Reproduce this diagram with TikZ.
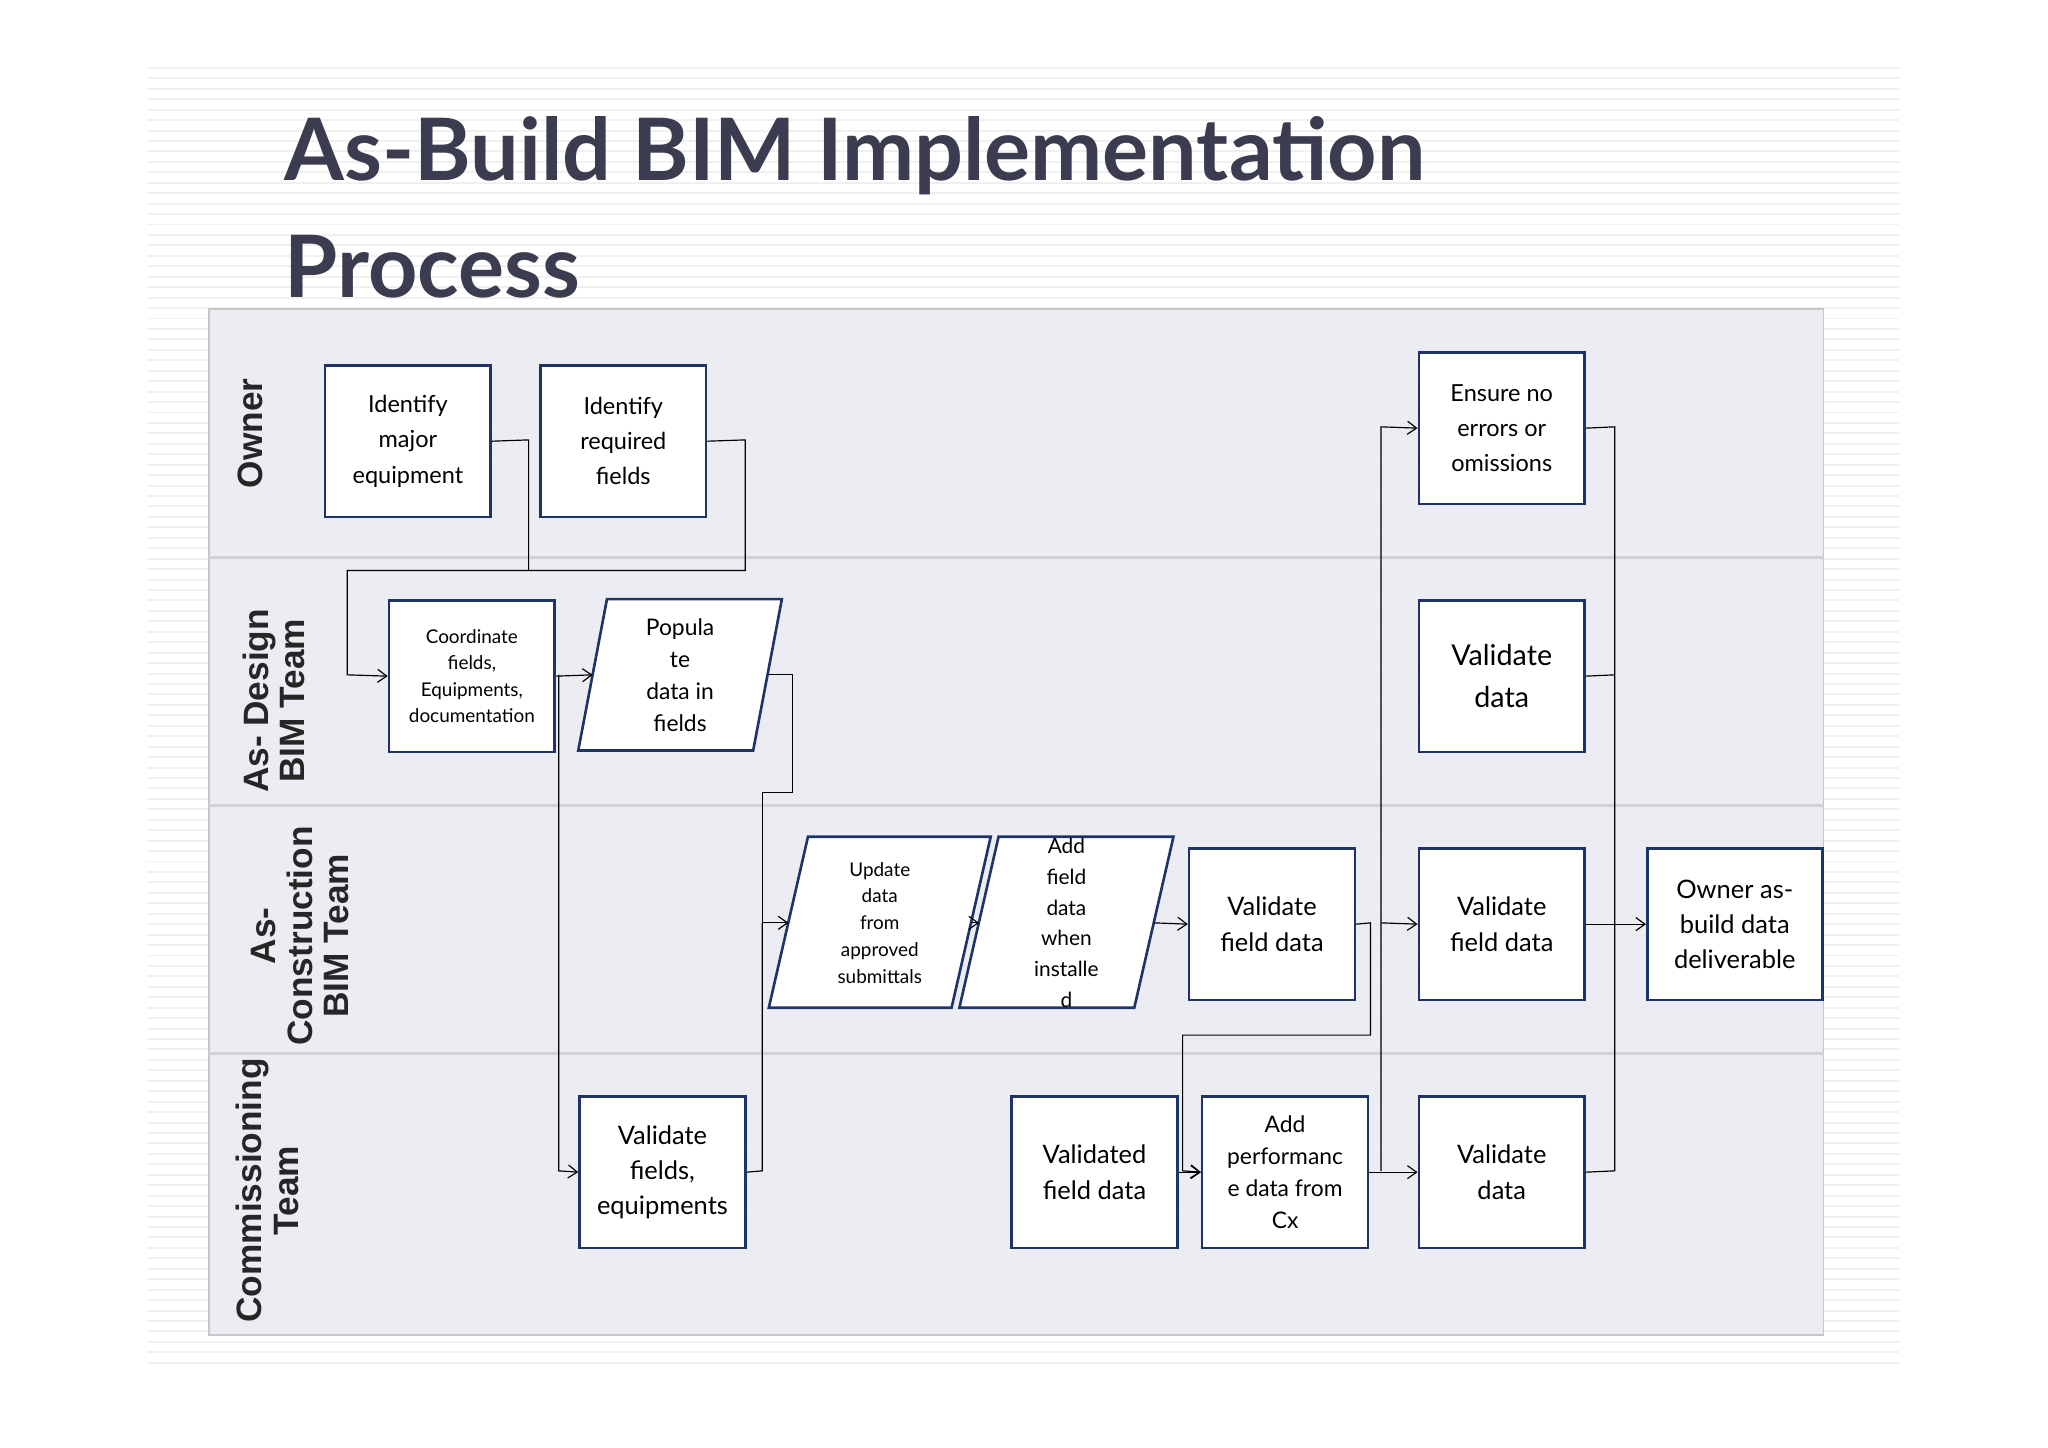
\documentclass[tikz,border=0pt]{standalone}
\usepackage{fontspec}
\setmainfont{Lato}
\newfontfamily\lanefont{Liberation Sans}
\usetikzlibrary{arrows.meta}
\definecolor{navy}{HTML}{1F3466}
\definecolor{titlec}{HTML}{3C3C50}
\definecolor{panel}{HTML}{E9EBF1}
\begin{document}
\begin{tikzpicture}[x=1pt,y=-1pt,
  box/.style={draw=navy,line width=2pt,fill=white,minimum width=127pt,minimum height=116pt,anchor=north west,align=center,inner sep=2pt,font=\fontsize{18}{27}\selectfont},
  para/.style={draw=navy,line width=2pt,fill=white},
  ptext/.style={align=center,inner sep=0pt},
  lane/.style={rotate=90,align=center,font=\lanefont\bfseries\fontsize{27}{28}\selectfont,text=black!85},
  conn/.style={draw=black,line width=0.9pt,-{Straight Barb[length=7pt,width=10pt]}},
  line/.style={draw=black,line width=0.9pt}]
\useasboundingbox (0,0) rectangle (1569,1109);
\fill[white] (0,0) rectangle (1569,1109);
\foreach \y in {52,60,...,1048} \draw[gray!12,line width=1.5pt] (113,\y) -- (1455,\y);
\node[anchor=base west,text=titlec,font=\bfseries\fontsize{66}{70}\selectfont,inner sep=0pt] (t1) at (218,138) {As-Build BIM Implementation};
\node[anchor=base west,text=titlec,font=\bfseries\fontsize{66}{70}\selectfont,inner sep=0pt] (t2) at (218,228) {Process};
\fill[panel,opacity=0.85] (160,237) rectangle (1397,1023);
\draw[gray!45,line width=1.5pt] (160,237) rectangle (1397,1023);
\foreach \y in {427,617,807} \draw[gray!35,line width=2pt] (160,\y) -- (1397,\y);
\node[lane] (l1) at (192,332) {Owner};
\node[lane] (l2) at (210,537) {As- Design\\BIM Team};
\node[lane] (l3) at (230,717) {As-\\Construction\\BIM Team};
\node[lane] (l4) at (205,912) {Commissioning\\Team};
% boxes
\node[box] (A) at (248,279) {Identify\\major\\equipment};
\node[box] (B) at (413,279) {Identify\\required\\fields};
\node[box] (C) at (1086,269) {Ensure no\\errors or\\omissions};
\node[box,font=\fontsize{14.5}{20}\selectfont] (D) at (297,459) {Coordinate\\fields,\\Equipments,\\documentation};
\node[box,font=\fontsize{22}{32}\selectfont] (F) at (1086,459) {Validate\\data};
\node[box,font=\fontsize{19.5}{27}\selectfont] (I) at (910,649) {Validate\\field data};
\node[box,font=\fontsize{19.5}{27}\selectfont] (J) at (1086,649) {Validate\\field data};
\node[box,minimum width=134pt,font=\fontsize{19.5}{27}\selectfont] (K) at (1261,649) {Owner as-\\build data\\deliverable};
\node[box,font=\fontsize{19.5}{27}\selectfont] (L) at (443,839) {Validate\\fields,\\equipments};
\node[box,font=\fontsize{19.5}{27}\selectfont] (M) at (774,839) {Validated\\field data};
\node[box,font=\fontsize{17.5}{24.5}\selectfont] (N) at (920,839) {Add\\performanc\\e data from\\Cx};
\node[box,font=\fontsize{19.5}{27}\selectfont] (O) at (1086,839) {Validate\\data};
% parallelograms
\draw[para] (465,459) -- (599,459) -- (577,575) -- (443,575) -- cycle;
\node[ptext,font=\fontsize{17.5}{24.5}\selectfont] (E) at (521,517) {Popula\\te\\data in\\fields};
\coordinate (Ein) at (454,517); \coordinate (Eout) at (588,517);
\draw[para] (619,641) -- (759,641) -- (729,772) -- (589,772) -- cycle;
\node[ptext,font=\fontsize{14.5}{20.5}\selectfont] (G) at (674,707) {Update\\data\\from\\approved\\submittals};
\coordinate (Gin) at (604,707); \coordinate (Gout) at (744,707);
\draw[para] (765,641) -- (899,641) -- (869,772) -- (735,772) -- cycle;
\node[ptext,font=\fontsize{16}{23.5}\selectfont] (H) at (817,707) {Add\\field\\data\\when\\installe\\d};
\coordinate (Hin) at (750,707); \coordinate (Hout) at (884,707);
% connectors
\draw[conn] (A.east) -- (405,337) -- (405,437) -- (266,437) -- (266,517) -- (D.west);
\draw[line] (B.east) -- (571,337) -- (571,437) -- (405,437);
\draw[conn] (D.east) -- (Ein);
\draw[conn] (428,517) -- (428,897) -- (L.west);
\draw[conn] (Eout) -- (607,517) -- (607,607) -- (584,607) -- (584,707) -- (Gin);
\draw[line] (L.east) -- (584,897) -- (584,707);
\draw[conn] (Gout) -- (Hin);
\draw[conn] (Hout) -- (I.west);
\draw[conn] (I.east) -- (1050,707) -- (1050,793) -- (906,793) -- (906,897) -- (N.west);
\draw[conn] (M.east) -- (N.west);
\draw[conn] (N.east) -- (O.west);
\draw[conn] (1058,897) -- (1058,327) -- (C.west);
\draw[conn] (1058,707) -- (J.west);
\draw[line] (C.east) -- (1237,327) -- (1237,897) -- (O.east);
\draw[line] (F.east) -- (1237,517);
\draw[conn] (J.east) -- (K.west);
\end{tikzpicture}
\end{document}
